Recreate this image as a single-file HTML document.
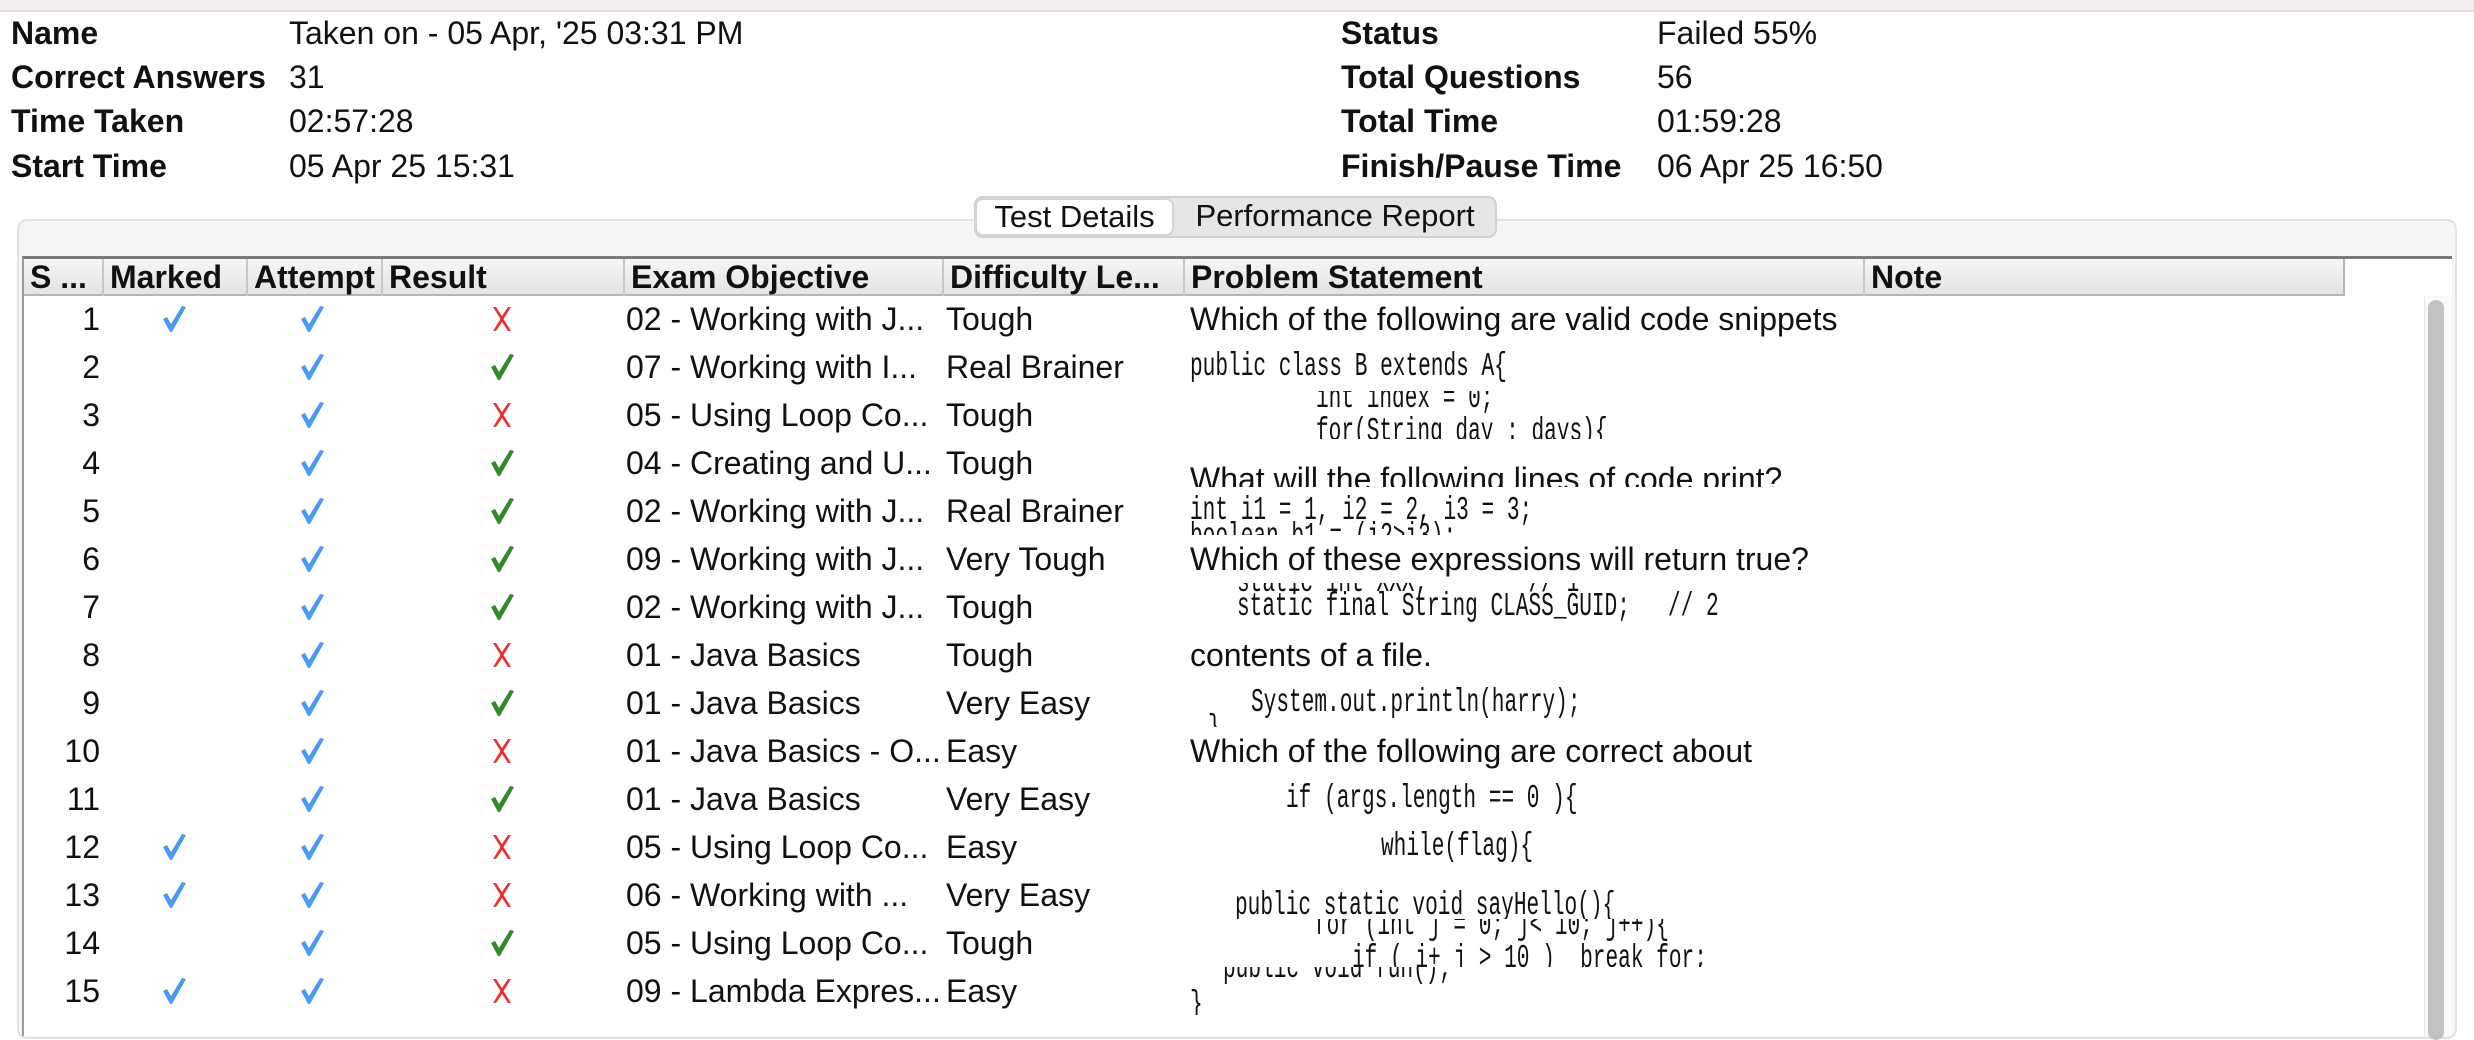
<!DOCTYPE html>
<html><head><meta charset="utf-8"><style>
*{margin:0;padding:0;box-sizing:border-box}
body{width:2474px;height:1024px;overflow:hidden;background:#fff;position:relative;font-family:"Liberation Sans","DejaVu Sans",sans-serif;color:#111}
.a{position:absolute;white-space:nowrap}
.lb{font-weight:bold;font-size:32px;line-height:40px}
.vl{font-size:32px;line-height:40px}
.row{position:absolute;left:22px;width:2400px;height:48px;overflow:hidden}
.c{position:absolute;top:0;line-height:48px;font-size:32px;white-space:nowrap}
.m{font-family:"Liberation Mono","DejaVu Sans Mono",monospace;font-size:33px;transform:scaleX(0.64);transform-origin:0 50%}
.hd{position:absolute;top:0;height:37px;line-height:37px;font-weight:bold;font-size:32px;padding-left:6px;border-right:2px solid #c8c8c8;white-space:nowrap;overflow:hidden}
svg{position:absolute}
</style></head><body>
<div class="a" style="left:0;top:0;width:2474px;height:12px;background:#f2eeef;border-bottom:2px solid #e0dcdc"></div>

<div class="a lb" style="left:11px;top:13px">Name</div>
<div class="a vl" style="left:289px;top:13px">Taken on - 05 Apr, '25 03:31 PM</div>
<div class="a lb" style="left:11px;top:57px">Correct Answers</div>
<div class="a vl" style="left:289px;top:57px">31</div>
<div class="a lb" style="left:11px;top:101px">Time Taken</div>
<div class="a vl" style="left:289px;top:101px">02:57:28</div>
<div class="a lb" style="left:11px;top:146px">Start Time</div>
<div class="a vl" style="left:289px;top:146px">05 Apr 25 15:31</div>

<div class="a lb" style="left:1341px;top:13px">Status</div>
<div class="a vl" style="left:1657px;top:13px">Failed 55%</div>
<div class="a lb" style="left:1341px;top:57px">Total Questions</div>
<div class="a vl" style="left:1657px;top:57px">56</div>
<div class="a lb" style="left:1341px;top:101px">Total Time</div>
<div class="a vl" style="left:1657px;top:101px">01:59:28</div>
<div class="a lb" style="left:1341px;top:146px">Finish/Pause Time</div>
<div class="a vl" style="left:1657px;top:146px">06 Apr 25 16:50</div>

<div class="a" style="left:17px;top:219px;width:2440px;height:820px;background:#f5f5f5;border:2px solid #e2e2e2;border-radius:10px"></div>
<div class="a" style="left:974px;top:196px;width:523px;height:42px;background:#e6e6e6;border:2px solid #d0d0d0;border-radius:9px"></div>
<div class="a" style="left:975px;top:198px;width:199px;height:38px;background:#fff;border:2px solid #d4d4d4;border-radius:8px;font-size:31px;line-height:34px;text-align:center">Test Details</div>
<div class="a" style="left:1175px;top:198px;width:320px;height:38px;font-size:31px;line-height:36px;text-align:center">Performance Report</div>

<div class="a" style="left:22px;top:256px;width:2430px;height:780px;background:#fff;border-top:3px solid #7a7a7a;border-left:2px solid #9a9a9a"></div>
<div class="a" style="left:24px;top:259px;width:2321px;height:37px;background:linear-gradient(#f6f6f6,#e3e3e3);border-bottom:2px solid #b5b5b5;border-right:2px solid #b5b5b5">
<div class="hd" style="left:0;width:80px">S ...</div>
<div class="hd" style="left:80px;width:144px">Marked</div>
<div class="hd" style="left:224px;width:135px">Attempt</div>
<div class="hd" style="left:359px;width:242px">Result</div>
<div class="hd" style="left:601px;width:319px">Exam Objective</div>
<div class="hd" style="left:920px;width:241px">Difficulty Le...</div>
<div class="hd" style="left:1161px;width:680px">Problem Statement</div>
<div class="hd" style="left:1841px;width:480px;border-right:none">Note</div>
</div>
<div class="a" style="left:2424px;top:296px;width:28px;height:740px;background:#fafafa;border-left:1px solid #e8e8e8"></div>
<div class="a" style="left:2428px;top:300px;width:16px;height:740px;background:#c2c2c2;border-radius:8px"></div>

<svg width="0" height="0" style="position:absolute">
<defs>
<path id="ck" d="M1 14 L5 12 L9 19 L20 1 L24 2 L10 27 L8 27 Z"/>
<path id="xx" d="M3 2 L6 2 L12 11 L18 2 L21 2 L13.5 14 L21 26 L18 26 L12 17 L6 26 L3 26 L10.5 14 Z"/>
</defs></svg>

<div id="rows"></div>
<script>
var data=[
[1,1,0,"02 - Working with J...","Tough",[["s",0,0,"Which of the following are valid code snippets"]]],
[2,0,1,"07 - Working with I...","Real Brainer",[["m",0,0,"public class B extends A{"]]],
[3,0,0,"05 - Using Loop Co...","Tough",[["m",126,-16,"int index = 0;"],["m",126,17,"for(String day : days){"]]],
[4,0,1,"04 - Creating and U...","Tough",[["s",0,16,"What will the following lines of code print?"]]],
[5,0,1,"02 - Working with J...","Real Brainer",[["m",0,0,"int i1 = 1, i2 = 2, i3 = 3;"],["m",0,26,"boolean b1 = (i2>i3);"]]],
[6,0,1,"09 - Working with J...","Very Tough",[["s",0,0,"Which of these expressions will return true?"]]],
[7,0,1,"02 - Working with J...","Tough",[["m",47,-24,"static int XXX;        // 1"],["m",47,0,"static final String CLASS_GUID;   // 2"]]],
[8,0,0,"01 - Java Basics","Tough",[["s",0,0,"contents of a file."]]],
[9,0,1,"01 - Java Basics","Very Easy",[["m",61,0,"System.out.println(harry);"],["m",18,26,"}"]]],
[10,0,0,"01 - Java Basics - O...","Easy",[["s",0,0,"Which of the following are correct about"]]],
[11,0,1,"01 - Java Basics","Very Easy",[["m",96,0,"if (args.length == 0 ){"]]],
[12,1,0,"05 - Using Loop Co...","Easy",[["m",191,0,"while(flag){"]]],
[13,1,0,"06 - Working with ...","Very Easy",[["m",45,11,"public static void sayHello(){"]]],
[14,0,1,"05 - Using Loop Co...","Tough",[["m",124,-17,"for (int j = 0; j< 10; j++){"],["m",162,16,"if ( i+ j > 10 )  break for;"]]],
[15,1,0,"09 - Lambda Expres...","Easy",[["m",33,-22,"public void fun();"],["m",0,14,"}"]]]
];
var h="";
function ico(id,col,x){return '<svg width="25" height="28" style="left:'+(x-12)+'px;top:10px"><use href="#'+id+'" fill="'+col+'"/></svg>';}
data.forEach(function(r,i){
 var top=295+48*i;
 h+='<div class="row" style="top:'+top+'px">';
 h+='<div class="c" style="left:0;width:78px;text-align:right">'+r[0]+'</div>';
 if(r[1])h+=ico("ck","#4a9cf2",152);
 h+=ico("ck","#4a9cf2",290);
 h+=r[2]?ico("ck","#2f8a2a",480):ico("xx","#e8332b",480);
 h+='<div class="c" style="left:604px">'+r[3]+'</div>';
 h+='<div class="c" style="left:924px">'+r[4]+'</div>';
 r[5].forEach(function(p){
  h+='<div class="c'+(p[0]=="m"?" m":"")+'" style="left:'+(1168+p[1])+'px;top:'+p[2]+'px">'+p[3].replace(/ /g,"&nbsp;")+'</div>';
 });
 h+='</div>';
});
document.getElementById("rows").innerHTML=h;
</script>
</body></html>
